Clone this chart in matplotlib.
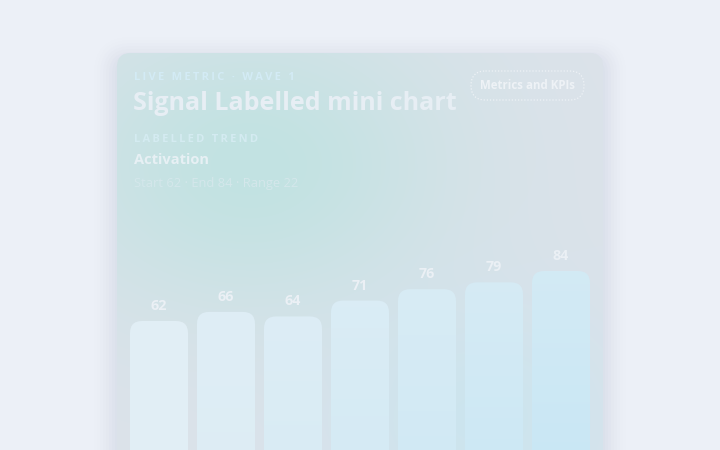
import numpy as np
import matplotlib
matplotlib.use("Agg")
import matplotlib.pyplot as plt
from matplotlib.patches import FancyBboxPatch

categories = ["P1", "P2", "P3", "P4", "P5", "P6", "P7"]
values = [62, 66, 64, 71, 76, 79, 84]
eyebrow = "LIVE METRIC · WAVE 1"
title = "Signal Labelled mini chart"
pill_text = "Metrics and KPIs"
section = "LABELLED TREND"
series_name = "Activation"
summary = "Start {} · End {} · Range {}".format(values[0], values[-1], max(values) - min(values))

W, H = 720, 450
plt.rcParams['font.family'] = ['Open Sans', 'DejaVu Sans']

fig = plt.figure(figsize=(7.2, 4.5), dpi=100)
fig.patch.set_facecolor('#ecf0f7')

# background layer in pixel coords (y down)
bg = fig.add_axes([0, 0, 1, 1])
bg.set_xlim(0, W)
bg.set_ylim(H, 0)
bg.axis('off')

# soft shadow
for i, a in enumerate(np.linspace(0.035, 0.008, 8)):
    pad = 2 + i * 3
    sh = FancyBboxPatch((117 - pad, 56 - pad + 4), 486 + 2 * pad, 430 + 2 * pad,
                        boxstyle="round,pad=0,rounding_size=%d" % (14 + pad),
                        fc='#9aa6c0', ec='none', alpha=a, zorder=1)
    bg.add_patch(sh)

card = FancyBboxPatch((117, 53), 486, 440, boxstyle="round,pad=0,rounding_size=14",
                      fc='#dce2ea', ec='none', zorder=2)
bg.add_patch(card)

# glow inside card
yy, xx = np.mgrid[0:H, 0:W]
base = np.array([0xdc, 0xe2, 0xea]) / 255
teal = np.array([0xc2, 0xe2, 0xe2]) / 255
cyan = np.array([0xc6, 0xe6, 0xf0]) / 255
g1 = np.exp(-(((xx - 250) / 200.0) ** 2 + ((yy - 165) / 150.0) ** 2))
g2 = np.exp(-(((xx - 480) / 150.0) ** 2 + ((yy - 420) / 120.0) ** 2)) * 0.7
img = base[None, None, :] * np.ones((H, W, 1))
img = img * (1 - g1[..., None]) + teal * g1[..., None]
img = img * (1 - g2[..., None]) + cyan * g2[..., None]
im = bg.imshow(img, extent=(0, W, H, 0), zorder=3, interpolation='bilinear')
im.set_clip_path(card)

txt_kw = dict(zorder=10, va='center', ha='left')
bg.text(134, 77.5, "\u2009".join(eyebrow), fontsize=8, fontweight='bold', color='#d3ebf5', **txt_kw)
bg.text(133, 104, title, fontsize=18, fontweight='bold', color='#e7eef4', **txt_kw)
bg.text(134, 140, "\u2009".join(section), fontsize=8, fontweight='bold', color='#d4ebf1', **txt_kw)
bg.text(134, 160.5, series_name, fontsize=10.5, fontweight='bold', color='#e7f0f4', **txt_kw)
bg.text(134, 183, summary, fontsize=9.3, color='#d4e7eb', **txt_kw)

pill = FancyBboxPatch((471, 71), 113, 29, boxstyle="round,pad=0,rounding_size=14.5",
                      fc='none', ec='#eef2f6', lw=0.9, ls=(0, (1, 1.5)), zorder=10)
bg.add_patch(pill)
bg.text(527.5, 85.5, pill_text, fontsize=8.3, fontweight='bold', color='#eef2f6',
        ha='center', va='center', zorder=11)

# bar axes: value 0 sits just below the frame
px_per_unit = 50 / 22.0
zero_y = 321 + 62 * px_per_unit
top_y = 230
ax_left, ax_right = 125.5, 594.5
ax = fig.add_axes([ax_left / W, (H - zero_y) / H, (ax_right - ax_left) / W, (zero_y - top_y) / H])
ax.patch.set_alpha(0)
ax.axis('off')

x = np.arange(len(values))
bars = ax.bar(x, values, width=58 / 67.0, color='none')
px_x = (ax_right - ax_left) / len(values)
r_px = 12
left_col = np.array([0xe1, 0xee, 0xf5]) / 255
right_col = np.array([0xc9, 0xe7, 0xf4]) / 255
for i, b in enumerate(bars):
    bx, by, bw, bh = b.get_x(), b.get_y(), b.get_width(), b.get_height()
    b.remove()
    # rounded top, bottom pushed below the frame
    p = FancyBboxPatch((bx, by - 30), bw, bh + 30,
                       boxstyle="round,pad=0,rounding_size=%f" % (r_px / px_x),
                       mutation_aspect=px_x / px_per_unit,
                       fc='none', ec='none', zorder=4)
    ax.add_patch(p)
    t = i / (len(values) - 1)
    c = left_col * (1 - t) + right_col * t
    top_c = c * 0.6 + np.array([0xe2, 0xef, 0xf6]) / 255 * 0.4
    grad = np.linspace(0, 1, 64)[:, None]
    col = top_c[None, None, :] * (1 - grad[..., None]) + c[None, None, :] * grad[..., None]
    col = np.repeat(col, 2, axis=1)
    gi = ax.imshow(col, extent=(bx, bx + bw, 0, bh), origin='upper', aspect='auto',
                   zorder=4, interpolation='bilinear')
    gi.set_clip_path(p)
    ax.text(x[i], values[i] + 15 / px_per_unit, str(values[i]), ha='center', va='center',
            fontsize=10.3, fontweight='bold', color='#ebf0f5', zorder=6)

ax.set_xlim(-0.5, len(values) - 0.5)
ax.set_ylim(0, (zero_y - top_y) / px_per_unit)

fig.savefig('out.png', dpi=100, facecolor=fig.get_facecolor())
